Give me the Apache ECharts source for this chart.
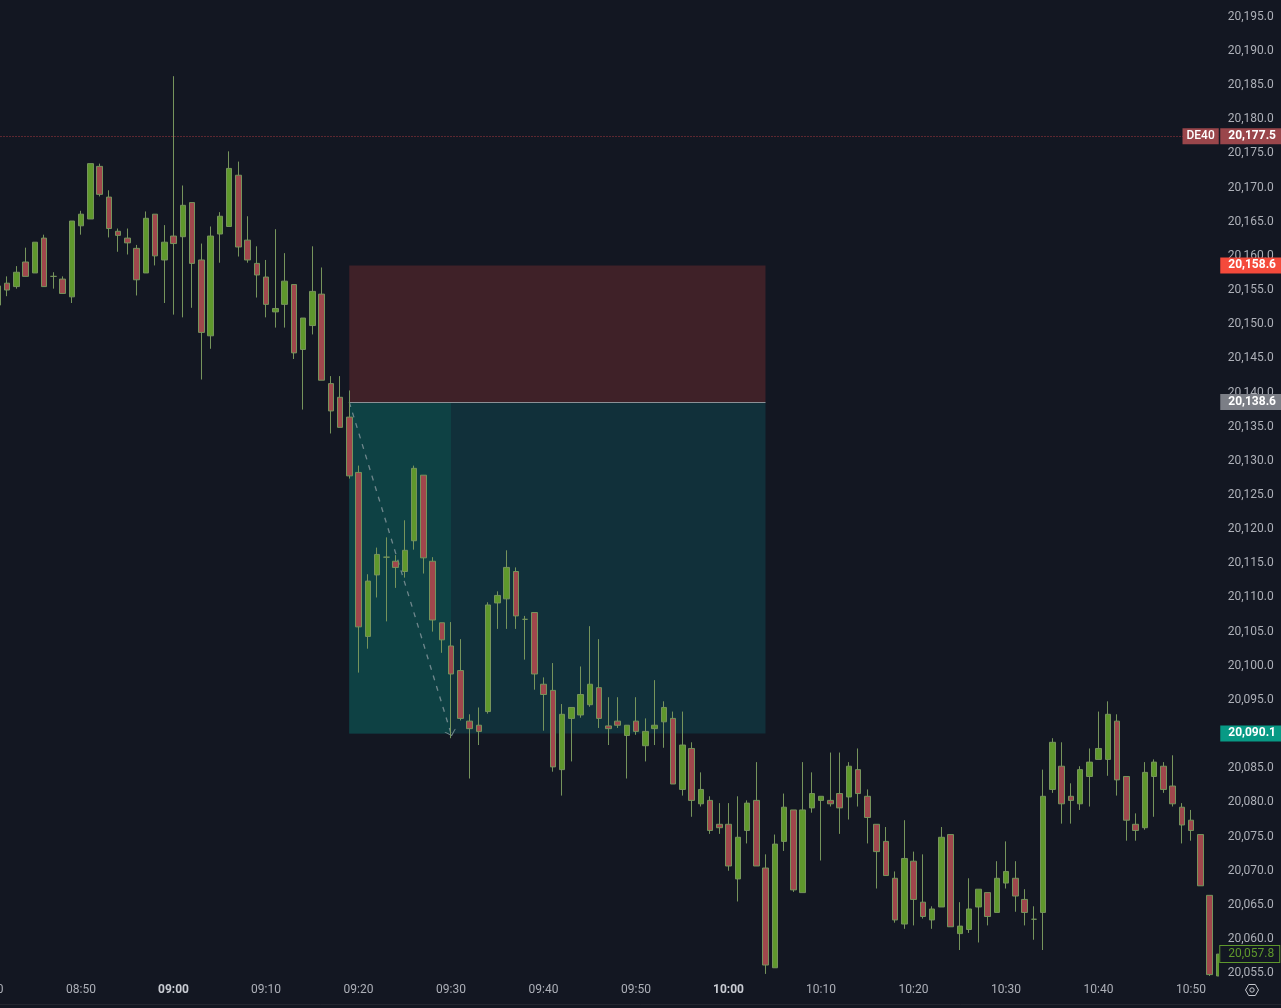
<!DOCTYPE html>
<html><head><meta charset="utf-8">
<style>html,body{margin:0;padding:0;background:#131722;overflow:hidden}#c{width:1281px;height:1008px}</style>
<script src="https://cdn.jsdelivr.net/npm/echarts@6/dist/echarts.min.js"></script>
</head><body><div id="c"></div>
<script>
const times = ['08:40','08:41','08:42','08:43','08:44','08:45','08:46','08:47','08:48','08:49','08:50','08:51','08:52','08:53','08:54','08:55','08:56','08:57','08:58','08:59',
'09:00','09:01','09:02','09:03','09:04','09:05','09:06','09:07','09:08','09:09','09:10','09:11','09:12','09:13','09:14','09:15','09:16','09:17','09:18','09:19',
'09:20','09:21','09:22','09:23','09:24','09:25','09:26','09:27','09:28','09:29','09:30','09:31','09:32','09:33','09:34','09:35','09:36','09:37','09:38','09:39',
'09:40','09:41','09:42','09:43','09:44','09:45','09:46','09:47','09:48','09:49','09:50','09:51','09:52','09:53','09:54','09:55','09:56','09:57','09:58','09:59',
'10:00','10:01','10:02','10:03','10:04','10:05','10:06','10:07','10:08','10:09','10:10','10:11','10:12','10:13','10:14','10:15','10:16','10:17','10:18','10:19',
'10:20','10:21','10:22','10:23','10:24','10:25','10:26','10:27','10:28','10:29','10:30','10:31','10:32','10:33','10:34','10:35','10:36','10:37','10:38','10:39',
'10:40','10:41','10:42','10:43','10:44','10:45','10:46','10:47','10:48','10:49','10:50','10:51','10:52','10:53'];
const opens = [null,20152.8,20156.0,20155.5,20159.1,20157.5,20162.6,20157.0,20156.6,20154.0,20164.4,20165.4,20173.1,20168.6,20163.6,20162.6,20161.1,20157.5,20166.1,20159.4,
20162.9,20162.8,20167.8,20159.4,20148.3,20163.2,20164.3,20171.8,20162.3,20158.9,20156.9,20151.8,20152.9,20155.8,20146.3,20149.8,20154.4,20141.3,20139.3,20136.4,
20128.3,20104.3,20113.3,20115.9,20115.3,20113.8,20118.3,20127.9,20115.3,20106.3,20102.9,20099.3,20091.9,20091.3,20093.3,20109.2,20109.8,20113.8,20106.8,20107.8,
20097.3,20096.4,20084.8,20092.3,20092.8,20094.3,20096.8,20091.2,20091.9,20089.8,20091.9,20088.3,20090.8,20091.8,20092.3,20081.9,20087.9,20079.8,20080.3,20076.8,
20076.8,20068.8,20075.9,20080.3,20070.4,20055.8,20074.3,20078.9,20066.8,20079.2,20080.3,20080.3,20081.3,20080.8,20084.8,20080.9,20076.8,20074.3,20068.9,20062.2,
20071.4,20065.4,20062.8,20064.7,20075.3,20060.8,20061.4,20064.7,20066.8,20063.9,20068.2,20068.9,20065.8,20062.9,20063.9,20081.9,20085.3,20080.9,20079.8,20083.8,
20086.3,20086.3,20091.9,20083.8,20076.8,20076.3,20083.8,20085.3,20082.4,20079.3,20077.4,20075.3,20066.4,20054.6];
const closes = [null,20155.6,20155.0,20157.6,20157.0,20162.0,20155.5,20157.0,20154.5,20165.1,20166.1,20173.5,20169.0,20164.0,20163.0,20161.9,20156.5,20165.5,20160.0,20162.0,
20161.8,20167.4,20158.9,20148.8,20162.9,20165.8,20172.8,20161.3,20159.4,20157.2,20152.9,20152.3,20156.3,20145.8,20150.9,20154.8,20141.8,20137.3,20134.9,20127.8,
20105.7,20112.4,20116.3,20115.9,20114.4,20116.9,20128.9,20115.8,20106.7,20103.8,20098.8,20092.3,20090.8,20090.4,20108.9,20110.3,20114.4,20107.3,20106.8,20098.8,
20095.8,20085.2,20092.9,20093.9,20095.8,20097.3,20092.3,20090.8,20091.3,20091.3,20090.4,20090.4,20091.3,20093.9,20082.7,20088.4,20080.3,20081.9,20075.9,20076.3,
20070.7,20074.9,20079.9,20070.7,20056.2,20073.9,20079.3,20067.2,20078.9,20081.3,20080.9,20079.8,20079.2,20085.3,20081.3,20077.8,20072.8,20069.3,20062.8,20071.8,
20065.8,20063.3,20064.4,20074.9,20061.8,20061.9,20064.4,20067.3,20063.3,20068.9,20069.9,20066.3,20063.9,20062.9,20080.9,20088.8,20079.8,20080.3,20084.8,20085.9,
20087.9,20092.9,20083.3,20077.4,20075.9,20084.4,20085.9,20081.9,20079.8,20076.7,20075.9,20067.8,20054.8,20057.8];
const lows = [null,20151.9,20154.1,20155.2,20157.0,20157.5,20155.5,20155.2,20154.5,20153.1,20163.1,20165.4,20168.7,20162.7,20160.6,20160.2,20154.2,20157.5,20158.6,20153.1,
20151.4,20151.0,20152.4,20141.9,20146.4,20159.0,20164.3,20159.9,20159.0,20153.9,20151.0,20149.5,20149.5,20144.9,20137.5,20148.5,20141.8,20134.0,20134.9,20127.4,
20099.0,20102.5,20110.0,20106.5,20111.4,20112.9,20117.0,20113.5,20105.0,20101.9,20089.4,20092.0,20083.5,20088.4,20093.0,20105.4,20105.4,20105.4,20100.9,20096.5,
20090.5,20084.5,20081.0,20086.0,20092.4,20094.0,20090.9,20088.4,20090.9,20083.5,20089.9,20086.0,20088.4,20088.0,20082.7,20081.0,20077.9,20079.4,20075.4,20075.4,
20070.0,20065.5,20074.0,20070.7,20054.9,20055.8,20072.9,20066.9,20066.8,20078.5,20071.5,20079.4,20075.4,20077.5,20079.4,20074.0,20067.4,20069.3,20062.4,20061.5,
20062.0,20063.0,20061.5,20064.7,20061.8,20058.4,20060.9,20059.5,20062.0,20063.9,20067.4,20064.0,20062.0,20059.9,20058.4,20081.4,20076.9,20076.9,20078.9,20079.4,
20086.3,20083.9,20081.0,20074.4,20074.4,20076.0,20077.9,20081.4,20079.4,20074.0,20074.4,20067.8,20054.6,20054.6];
const highs = [null,20155.6,20157.0,20158.5,20161.2,20162.0,20163.1,20157.6,20157.0,20165.1,20166.6,20173.5,20173.5,20169.6,20164.0,20164.0,20161.6,20166.5,20166.1,20164.5,
20186.3,20170.3,20167.8,20161.8,20164.3,20166.4,20175.3,20173.8,20165.8,20161.4,20159.4,20163.9,20160.4,20155.8,20150.9,20161.4,20158.3,20142.4,20142.4,20140.3,
20129.3,20113.4,20117.3,20118.8,20116.2,20121.3,20129.3,20127.9,20115.9,20106.3,20106.4,20103.9,20092.9,20093.9,20109.3,20110.9,20116.9,20114.4,20107.3,20107.8,
20098.3,20100.4,20094.4,20093.9,20099.9,20105.8,20103.9,20095.4,20095.4,20091.3,20095.4,20092.3,20097.9,20094.8,20093.3,20093.3,20088.8,20084.4,20080.9,20079.9,
20079.9,20080.9,20080.3,20085.9,20072.4,20075.3,20081.3,20078.9,20085.9,20084.4,20080.9,20087.3,20087.3,20085.9,20087.9,20081.9,20076.8,20076.4,20069.9,20077.4,
20072.8,20072.4,20064.8,20076.4,20075.3,20065.4,20068.9,20067.3,20066.8,20071.4,20074.3,20071.4,20067.3,20064.8,20084.8,20089.4,20088.8,20082.8,20085.3,20087.9,
20093.3,20094.8,20092.9,20083.8,20078.4,20085.9,20086.3,20085.9,20086.9,20079.9,20078.9,20075.3,20066.4,20057.8];
const yTicks = [20055,20060,20065,20070,20075,20080,20085,20090,20095,20100,20105,20110,20115,20120,20125,20130,20135,20140,20145,20150,20155,20160,20165,20170,20175,20180,20185,20190,20195];
const instrument = 'DE40';
const symbolPrice = 20177.5, stopPrice = 20158.6, entryPrice = 20138.6, targetPrice = 20090.1, lastPrice = 20057.8;
const entryTime = '09:19', hitTime = '09:30', endTime = '10:04';
const lastTime = times[times.length - 1];

const BG = '#131722', UP = '#5f982c', DOWN = '#a0474c', EDGE = '#76945c', TXT = '#adb0b8';
const FONT = 'Roboto, Arial, sans-serif';
const fmt = v => Number(v).toLocaleString('en-US', {minimumFractionDigits: 1, maximumFractionDigits: 1});
const rows = times.map((t, i) => opens[i] === null ? ['-','-','-','-'] : [opens[i], closes[i], lows[i], highs[i]]);

function tag(value, bg, color, border) {
  return {
    coord: [lastTime, value], symbol: 'rect', symbolSize: 0,
    label: {show: true, position: 'right', distance: 1.5, formatter: fmt(value), color: color, fontFamily: FONT,
      fontSize: 12, fontWeight: border ? 'normal' : 'bold', backgroundColor: bg, borderColor: border || 'transparent',
      borderWidth: border ? 1 : 0, padding: [2, 5, 2, 8], lineHeight: 12}
  };
}

const chart = echarts.init(document.getElementById('c'), null, {renderer: 'canvas', width: 1281, height: 1008});
chart.setOption({
  animation: false,
  backgroundColor: BG,
  grid: {left: -11.5, right: 62.25, top: 0, bottom: 28, containLabel: false, outerBoundsMode: 'none'},
  xAxis: {
    type: 'category', data: times, boundaryGap: false,
    axisLine: {show: false}, axisTick: {show: false}, splitLine: {show: false},
    axisLabel: {
      interval: (i, v) => v.endsWith('0'),
      margin: 4, fontFamily: FONT, fontSize: 12, color: TXT,
      formatter: v => v.endsWith(':00') ? '{b|' + v + '}' : v,
      rich: {b: {fontFamily: FONT, fontSize: 12, fontWeight: 'bold', color: '#c9ccd3'}}
    }
  },
  yAxis: {
    type: 'value', position: 'right', min: 20054.01, max: 20197.45, z: 5,
    axisLine: {show: false}, axisTick: {show: false}, splitLine: {show: false},
    axisLabel: {customValues: yTicks, inside: false, margin: 9, fontFamily: FONT, fontSize: 12, color: TXT, formatter: fmt, padding: [0, 0, 3, 0]}
  },
  series: [{
    type: 'candlestick', data: rows, barWidth: 6, clip: true,
    itemStyle: {color: UP, color0: DOWN, borderColor: EDGE, borderColor0: EDGE, borderWidth: 1},
    markArea: {
      silent: true, z: 1,
      data: [
        [{coord: [entryTime, stopPrice], itemStyle: {color: '#3f2128', opacity: 1}}, {coord: [endTime, entryPrice]}],
        [{coord: [entryTime, entryPrice], itemStyle: {color: '#11303a', opacity: 1}}, {coord: [endTime, targetPrice]}],
        [{coord: [entryTime, entryPrice], itemStyle: {color: '#0e4144', opacity: 1}}, {coord: [hitTime, targetPrice]}]
      ]
    },
    markLine: {
      silent: true, z: 1, animation: false, symbol: 'none', precision: 1,
      data: [
        {yAxis: symbolPrice, symbol: 'none', lineStyle: {color: '#a8383f', type: [1, 2], width: 1}, label: {show: false}},
        [{coord: [entryTime, entryPrice], symbol: 'none', lineStyle: {color: '#8c9096', type: 'solid', width: 1}, label: {show: false}}, {coord: [endTime, entryPrice], symbol: 'none'}],
        [{coord: [entryTime, entryPrice], symbol: 'none', lineStyle: {color: '#6f878c', type: [5, 6], width: 1.3}, label: {show: false}},
         {coord: [hitTime, targetPrice], symbol: 'path://M0,10 L5,0 L10,10 L8.8,10 L5,2.6 L1.2,10 Z', symbolSize: [12, 6]}]
      ]
    }
  }, {
    type: 'scatter', data: [[lastTime, lastPrice]], symbolSize: 0, clip: false, silent: true, z: 6,
    markPoint: {
      silent: true, animation: false, z: 8,
      data: [
        {coord: [lastTime, symbolPrice], symbol: 'rect', symbolSize: 0,
         label: {show: true, position: 'left', distance: 0, formatter: instrument, color: '#fff', fontFamily: FONT, fontSize: 12, fontWeight: 500,
           backgroundColor: '#9a464b', padding: [2, 4, 2, 4], lineHeight: 12}},
        tag(symbolPrice, '#9a464b', '#ffffff'),
        tag(stopPrice, '#f44a3b', '#ffffff'),
        tag(entryPrice, '#7b7e86', '#ffffff'),
        tag(targetPrice, '#089a85', '#ffffff'),
        tag(lastPrice, BG, '#5f982c', '#5f982c')
      ]
    }
  }],
  graphic: [
    {type: 'rect', z: 3, shape: {x: 1219, y: 930, width: 62, height: 50}, style: {fill: BG}, silent: true},
    {type: 'line', z: 4, shape: {x1: 0, y1: 1004.5, x2: 1281, y2: 1004.5}, style: {stroke: '#23262f', lineWidth: 1}, silent: true},
    {type: 'polygon', z: 4, shape: {points: [[1245.5,990],[1248.7,984.5],[1255.3,984.5],[1258.5,990],[1255.3,995.5],[1248.7,995.5]]}, style: {fill: 'none', stroke: '#c4c7ce', lineWidth: 1}, silent: true},
    {type: 'circle', z: 4, shape: {cx: 1252, cy: 990, r: 2.2}, style: {fill: 'none', stroke: '#c4c7ce', lineWidth: 1}, silent: true}
  ]
});
</script></body></html>
